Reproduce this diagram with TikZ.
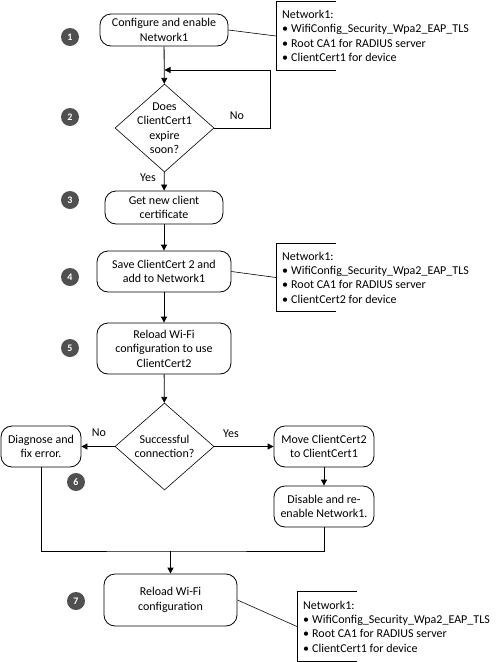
\documentclass[tikz,border=0pt]{standalone}
\usepackage{fontspec}
\setmainfont{Carlito}
\usetikzlibrary{shapes.geometric,arrows.meta}
\definecolor{numgray}{RGB}{80,80,80}
\begin{document}
\begin{tikzpicture}[x=1pt,y=-1pt,
  every node/.style={font=\fontsize{12}{14.4}\selectfont},
  box/.style={draw, rounded corners=11pt, align=center, inner sep=1pt, line width=0.8pt},
  dia/.style={draw, diamond, minimum width=99pt, minimum height=88pt, inner sep=0pt, line width=0.6pt},
  num/.style={circle, fill=numgray, text=white, minimum size=18pt, inner sep=0pt, font=\fontsize{10}{12}\selectfont\bfseries},
  ann/.style={anchor=west, align=left, inner xsep=6pt, inner ysep=0pt, minimum height=68pt},
  bracket/.style={line width=0.8pt},
  conn/.style={line width=0.6pt},
  arr/.style={line width=0.8pt, -{Triangle[length=6pt,width=6pt]}},
  lbl/.style={inner sep=0pt}
]
\useasboundingbox (0,0) rectangle (497,662);

% main boxes
\node[box, minimum width=128pt, minimum height=32pt] (b1) at (164,30) {Configure and enable\\Network1};
\node[dia, label={[align=center, inner sep=0pt]center:Does\\ClientCert1\\expire\\soon?}] (d1) at (164.5,128) {};
\node[box, minimum width=118pt, minimum height=33pt] (b3) at (164,207.5) {Get new client\\certificate};
\node[box, minimum width=134pt, minimum height=41pt] (b4) at (164,271.5) {Save ClientCert 2 and\\add to Network1};
\node[box, minimum width=134pt, minimum height=51pt] (b5) at (164,348.5) {Reload Wi-Fi\\configuration to use\\ClientCert2};
\node[dia, minimum height=87pt, label={[align=center, inner sep=0pt]center:Successful\\connection?}] (d2) at (164.5,446.5) {};
\node[box, minimum width=80pt, minimum height=41pt] (bl) at (41,446.5) {Diagnose and\\fix error.};
\node[box, minimum width=100pt, minimum height=41pt] (br) at (324,446.5) {Move ClientCert2\\to ClientCert1};
\node[box, minimum width=100pt, minimum height=41pt] (br2) at (324,506.5) {Disable and re-\\enable Network1.};
\node[box, minimum width=133pt, minimum height=52pt] (b7) at (170.5,600) {Reload Wi-Fi\\configuration};

% step numbers
\node[num] (n1) at (70,37) {1};
\node[num] (n2) at (70,117) {2};
\node[num] (n3) at (70,200) {3};
\node[num] (n4) at (70,277) {4};
\node[num] (n5) at (70,348) {5};
\node[num] (n6) at (76,482) {6};
\node[num] (n7) at (76,601) {7};

% annotations
\node[ann] (a1) at (276,36) {Network1:\\\textbullet\hspace{3pt}WifiConfig\_Security\_Wpa2\_EAP\_TLS\\\textbullet\hspace{3pt}Root CA1 for RADIUS server\\\textbullet\hspace{3pt}ClientCert1 for device};
\node[ann] (a2) at (276,277.5) {Network1:\\\textbullet\hspace{3pt}WifiConfig\_Security\_Wpa2\_EAP\_TLS\\\textbullet\hspace{3pt}Root CA1 for RADIUS server\\\textbullet\hspace{3pt}ClientCert2 for device};
\node[ann, minimum height=69pt] (a3) at (297,626.5) {Network1:\\\textbullet\hspace{3pt}WifiConfig\_Security\_Wpa2\_EAP\_TLS\\\textbullet\hspace{3pt}Root CA1 for RADIUS server\\\textbullet\hspace{3pt}ClientCert1 for device};
\foreach \a in {a1,a2,a3}{
  \draw[bracket] ([xshift=60pt]\a.north west) -- (\a.north west) -- (\a.south west) -- ([xshift=60pt]\a.south west);
}
\draw[conn] (b1.east) -- (a1.west);
\draw[conn] (b4.east) -- (a2.west);
\draw[conn] (b7.east) -- (a3.west);

% connectors
\coordinate (loopin) at (164.5,70);
\coordinate (loopc) at (270,128);
\draw[arr] (b1) -- (d1);
\draw[arr] (d1.east) -- (loopc) |- (loopin);
\draw[arr] (d1) -- (b3);
\draw[arr] (b3) -- (b4);
\draw[arr] (b4) -- (b5);
\draw[arr] (b5) -- (d2);
\draw[arr] (d2) -- (bl);
\draw[arr] (d2) -- (br);
\draw[arr] (br) -- (br2);
\coordinate (merge) at (170.5,551);
\draw[line width=0.8pt] (bl.south) |- (merge) -| (br2.south);
\draw[arr] (merge) -- (b7);

% branch labels
\node[lbl] (no1) at (237,116) {No};
\node[lbl] (yes1) at (148,178) {Yes};
\node[lbl] (no2) at (99,433) {No};
\node[lbl] (yes2) at (231,434) {Yes};
\end{tikzpicture}
\end{document}
